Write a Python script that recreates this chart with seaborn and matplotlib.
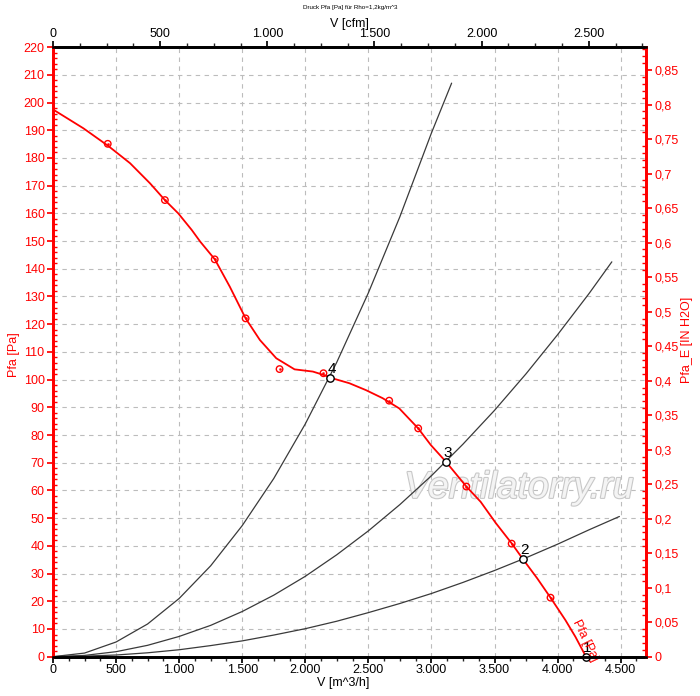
# Kennlinie Ventilator: Druck Pfa über Volumenstrom mit Anlagenkennlinien
import numpy as np
import pandas as pd
import matplotlib
matplotlib.use("Agg")
import matplotlib.pyplot as plt
import matplotlib.patheffects as pe
from matplotlib.ticker import MultipleLocator, FuncFormatter
import seaborn as sns

# Ventilatorkennlinie (rot)
fan_v = [0, 241, 439, 611, 770, 887, 993, 1100, 1167, 1283, 1402, 1527, 1640,
         1770, 1915, 2060, 2165, 2197, 2349, 2481, 2613, 2745, 2895, 2995, 3114,
         3277, 3390, 3509, 3636, 3727, 3838, 3944, 4062, 4141, 4225]
fan_p = [197.5, 190.7, 184.3, 178.1, 170.8, 164.8, 160.0, 154.0, 149.8, 143.4,
         133.5, 122.1, 114.3, 107.7, 103.7, 102.9, 101.4, 100.7, 98.7, 96.2, 93.3,
         89.6, 82.4, 76.4, 70.4, 61.4, 55.9, 48.3, 40.9, 35.1, 28.3, 21.3, 13.2,
         7.2, 0.0]

# Messpunkte
meas_v = [434, 887, 1282, 1527, 1796, 2144, 2665, 2895, 3277, 3636, 3944]
meas_p = [185.1, 164.8, 143.4, 122.1, 103.8, 102.3, 92.4, 82.4, 61.4, 40.8, 21.3]

# Anlagenkennlinien (schwarz)
sysA_v = [0, 250, 500, 750, 1000, 1250, 1500, 1750, 2000, 2250, 2500, 2750, 3000, 3160]
sysA_p = [0, 1.3, 5.3, 11.8, 21.0, 32.8, 47.3, 64.3, 84.0, 106.3, 131.3, 158.8, 189.0, 207.0]
sysB_v = [0, 250, 500, 750, 1000, 1250, 1500, 1750, 2000, 2250, 2500, 2750, 3000,
          3250, 3500, 3750, 4000, 4250, 4430]
sysB_p = [0, 0.45, 1.8, 4.1, 7.3, 11.3, 16.3, 22.2, 29.0, 36.8, 45.4, 54.9, 65.3,
          76.7, 88.9, 102.1, 116.2, 131.1, 142.5]
sysC_v = [0, 250, 500, 750, 1000, 1250, 1500, 1750, 2000, 2250, 2500, 2750, 3000,
          3250, 3500, 3750, 4000, 4250, 4490]
sysC_p = [0, 0.2, 0.6, 1.4, 2.5, 4.0, 5.7, 7.8, 10.1, 12.8, 15.9, 19.2, 22.8,
          26.8, 31.1, 35.7, 40.6, 45.8, 50.6]

# Betriebspunkte
op_v = [4225, 3727, 3114, 2197]
op_p = [0.0, 35.1, 70.4, 100.7]
op_labels = ["1", "2", "3", "4"]

sns.set_theme(style="white")
plt.rcParams["font.family"] = ["Liberation Sans", "DejaVu Sans"]

RED = "#ff0000"
fig = plt.figure(figsize=(7.0, 6.96), dpi=100)
ax = fig.add_axes([0.0757, 0.0565, 0.847, 0.8758])

for vv, pp in [(sysA_v, sysA_p), (sysB_v, sysB_p), (sysC_v, sysC_p)]:
    sns.lineplot(x=vv, y=pp, ax=ax, color="#3a3a3a", lw=0.9, estimator=None, zorder=3,
                 solid_joinstyle="round")
sns.lineplot(x=fan_v, y=fan_p, ax=ax, color=RED, lw=1.3, estimator=None, zorder=4,
             solid_joinstyle="round")
sns.scatterplot(x=meas_v, y=meas_p, ax=ax, marker="o", s=22, facecolor="none",
                edgecolor=RED, linewidth=1.0, zorder=5)
sns.scatterplot(x=meas_v, y=meas_p, ax=ax, marker="o", s=3, color=RED,
                edgecolor=RED, zorder=5)
sns.scatterplot(x=op_v, y=op_p, ax=ax, marker="o", s=28, color="white",
                edgecolor="black", linewidth=1.0, zorder=6, clip_on=False)
for v, p, lab in zip(op_v, op_p, op_labels):
    ax.annotate(lab, (v, p), xytext=(1, 1.5), textcoords="offset points",
                ha="center", va="bottom", fontsize=11, color="black", zorder=7)

ax.text(4215, 5.8, "Pfa [Pa]", rotation=-64, ha="center", va="center",
        rotation_mode="anchor", color=RED, fontsize=9, clip_on=False, zorder=7)

ax.text(0.786, 0.277, "Ventilatorry.ru", transform=ax.transAxes, ha="center",
        va="center", fontsize=27, fontstyle="italic", color="#f4f4f4", zorder=1,
        path_effects=[pe.withStroke(linewidth=1.6, foreground="#c8c8c8")])

ax.set_xlim(0, 4700)
ax.set_ylim(0, 220)
ax.xaxis.set_major_locator(MultipleLocator(500))
ax.xaxis.set_minor_locator(MultipleLocator(125))
ax.yaxis.set_major_locator(MultipleLocator(10))
ax.yaxis.set_minor_locator(MultipleLocator(2))
ax.xaxis.set_major_formatter(FuncFormatter(lambda x, _: f"{int(x):,}".replace(",", ".")))
ax.grid(True, which="major", color="#bcbcbc", linestyle=(0, (4, 4)), lw=0.8)
ax.tick_params(axis="x", which="major", length=4, direction="out", labelsize=9,
               colors="black", bottom=True, pad=1)
ax.tick_params(axis="x", which="minor", length=3, direction="out", bottom=True)
ax.tick_params(axis="y", which="major", length=4, direction="out", labelsize=9,
               colors=RED, left=True, pad=2)
ax.tick_params(axis="y", which="minor", length=3, direction="in", colors=RED, left=True)
ax.set_xlabel("V [m^3/h]", fontsize=9, color="black", va="center")
ax.set_ylabel("Pfa [Pa]", fontsize=9, color=RED)
ax.xaxis.set_label_coords(0.49, -0.043)
ax.yaxis.set_label_coords(-0.055, 0.495)

# rechte Achse in inch H2O
ax2 = ax.twinx()
ax2.set_ylim(0, 220 / 249.089)
ax2.yaxis.set_major_locator(MultipleLocator(0.05))
ax2.yaxis.set_minor_locator(MultipleLocator(0.01))
ax2.yaxis.set_major_formatter(FuncFormatter(
    lambda y, _: f"{y:.2f}".rstrip("0").rstrip(".").replace(".", ",")))
ax2.tick_params(axis="y", which="major", length=4, direction="out", labelsize=9,
                colors=RED, right=True, pad=2)
ax2.tick_params(axis="y", which="minor", length=3, direction="in", colors=RED, right=True)
ax2.set_ylabel("Pfa_E [IN H2O]", fontsize=9, color=RED)
ax2.yaxis.set_label_coords(1.06, 0.52)

# obere Achse in cfm
ax3 = ax.twiny()
ax3.set_xlim(0, 4700 / 1.699)
ax3.xaxis.set_major_locator(MultipleLocator(500))
ax3.xaxis.set_minor_locator(MultipleLocator(125))
ax3.xaxis.set_major_formatter(FuncFormatter(lambda x, _: f"{int(x):,}".replace(",", ".")))
ax3.tick_params(axis="x", which="major", length=4, direction="out", labelsize=9,
                colors="black", top=True, pad=1)
ax3.tick_params(axis="x", which="minor", length=3, direction="out", top=True)
ax3.set_xlabel("V [cfm]", fontsize=9, color="black", va="center")
ax3.xaxis.set_label_coords(0.5, 1.038)

for a in (ax, ax2, ax3):
    a.spines["top"].set_color("black")
    a.spines["bottom"].set_color("black")
    a.spines["left"].set_color(RED)
    a.spines["right"].set_color(RED)
    for s in a.spines.values():
        s.set_linewidth(1.8)

fig.text(0.5, 1 - 8 / 696, "Druck Pfa [Pa] für Rho=1,2kg/m^3", ha="center",
         va="center", fontsize=4.5, color="black")

fig.savefig("out.png", dpi=100)
